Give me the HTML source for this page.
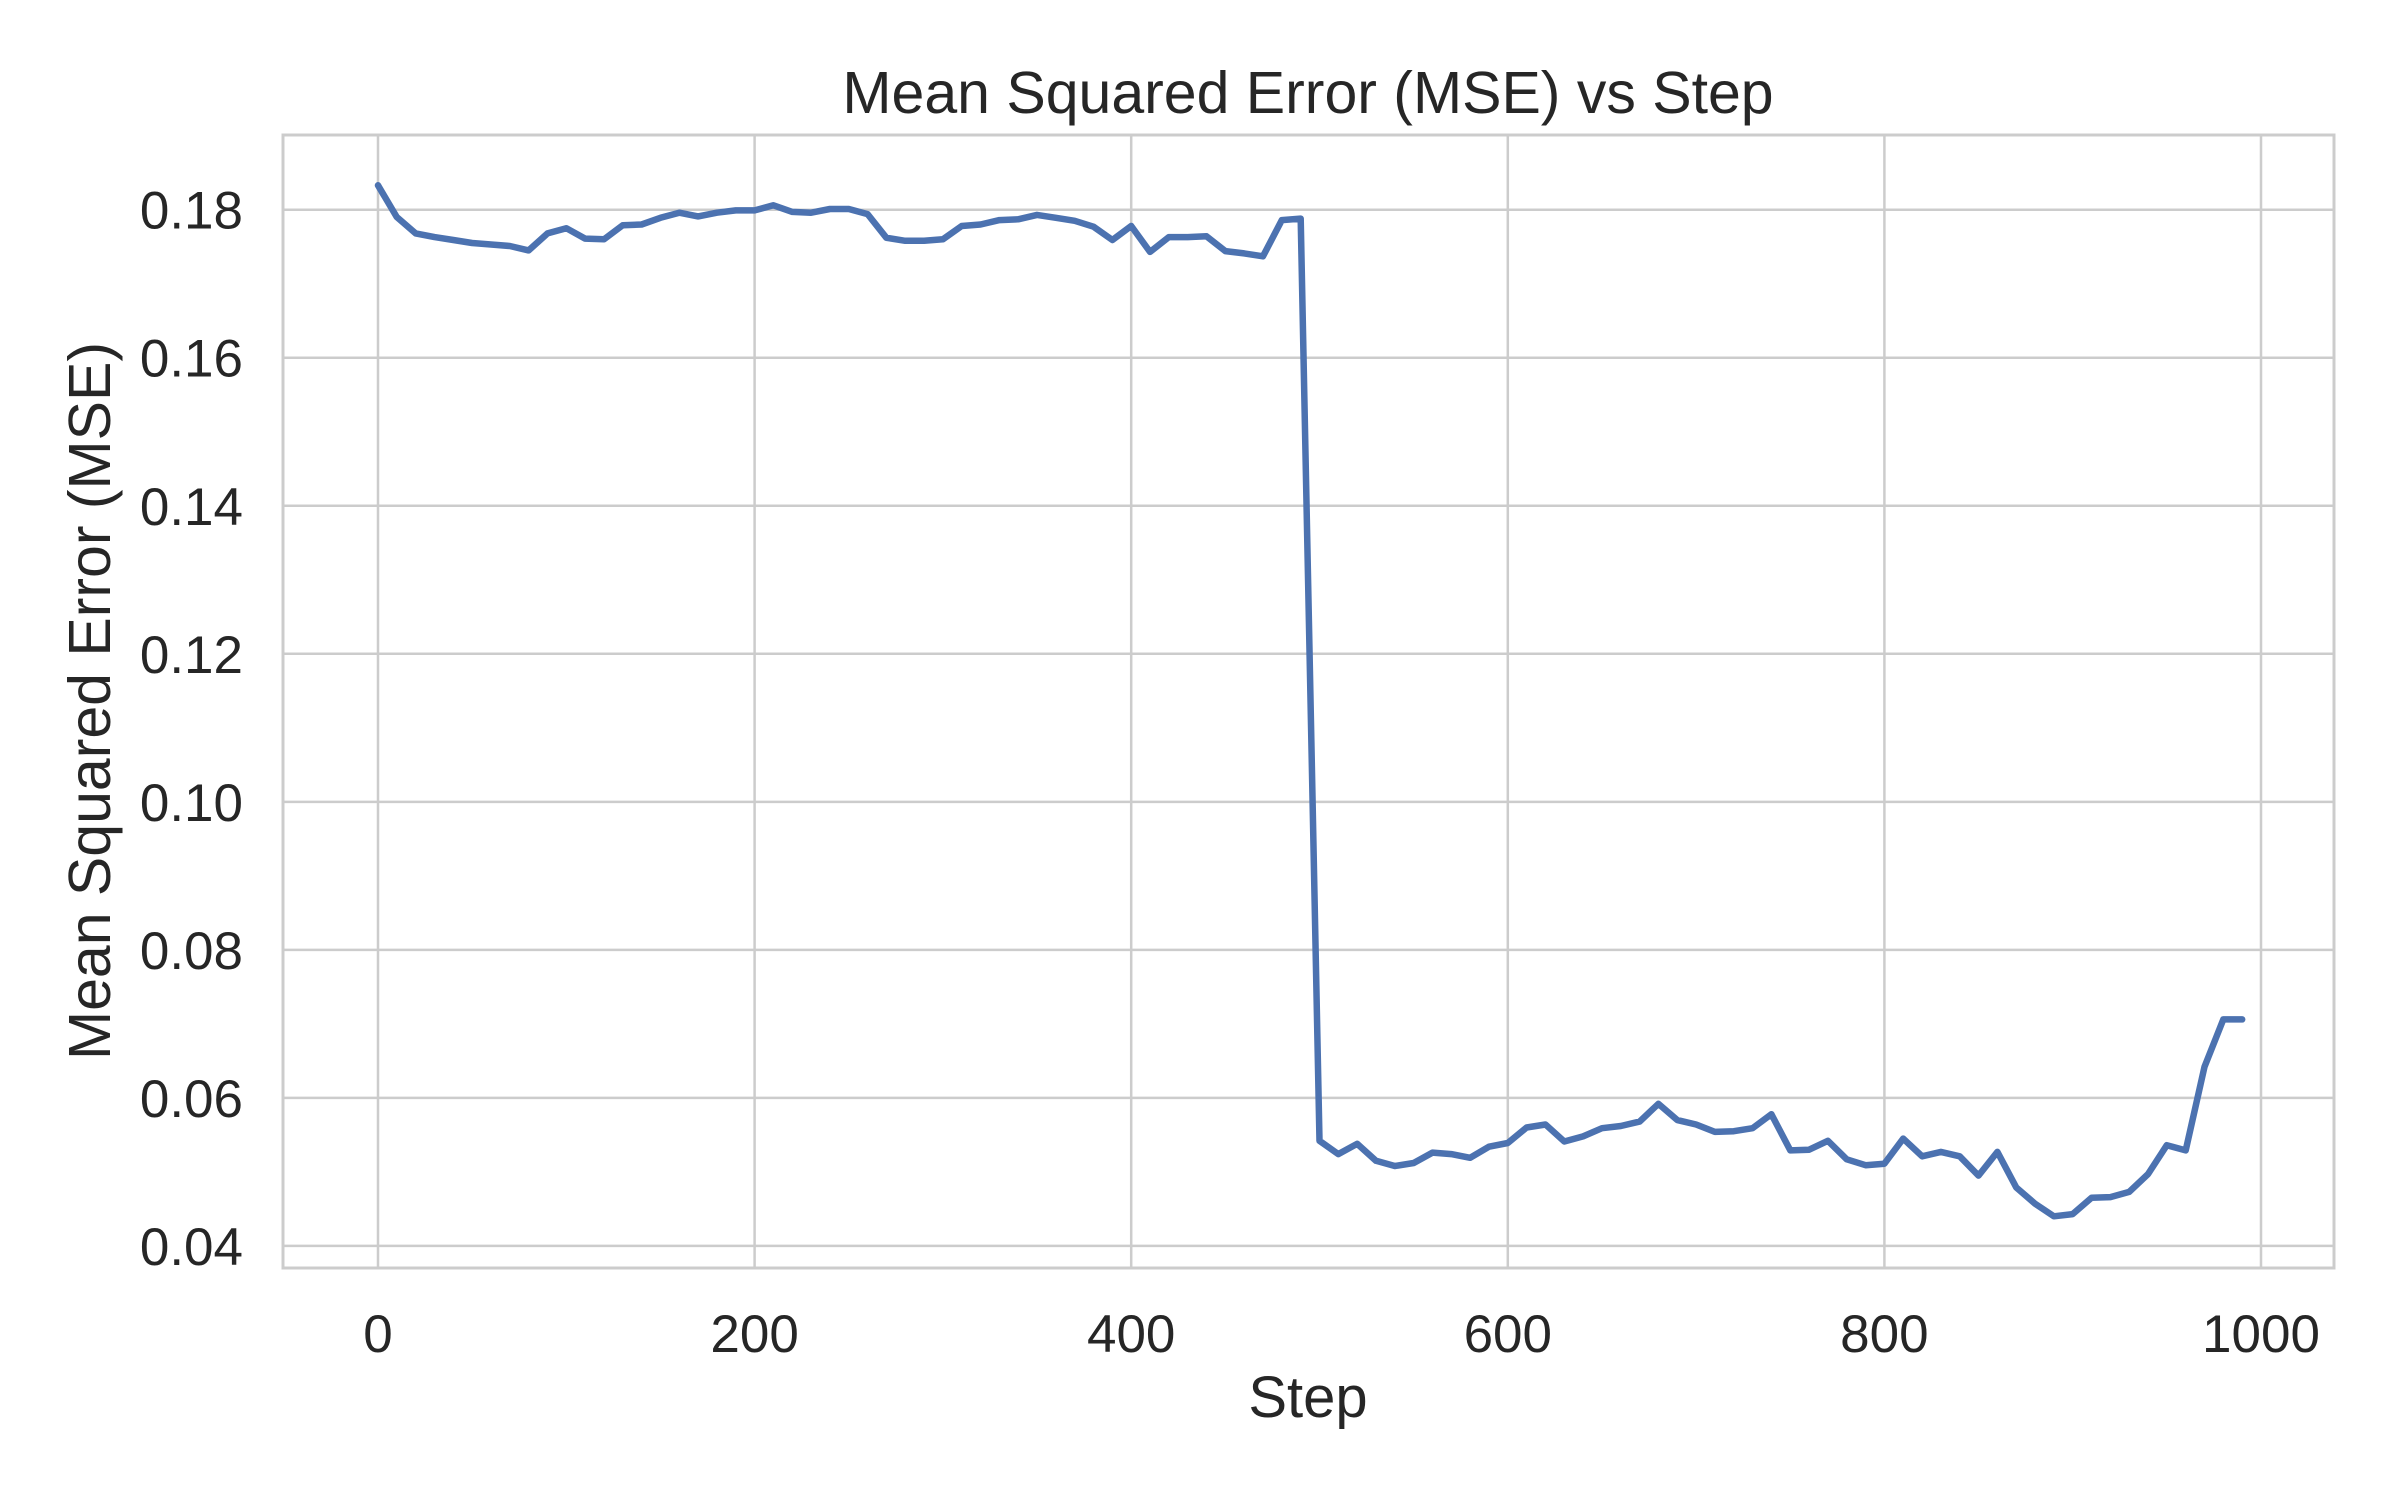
<!DOCTYPE html>
<html><head><meta charset="utf-8"><style>
html,body{margin:0;padding:0;background:#fff}
svg text{font-family:"Liberation Sans",sans-serif;fill:#262626}
</style></head><body>
<svg id="chart" width="2400" height="1500" xmlns="http://www.w3.org/2000/svg">
<rect width="2400" height="1500" fill="#fff"/>
<g id="grid"></g>
<rect x="283" y="135" width="2051" height="1133" fill="none" stroke="#cccccc" stroke-width="3"/>
<g id="marks"></g>
<g id="ticks"></g>
<text x="1308" y="113" text-anchor="middle" font-size="59">Mean Squared Error (MSE) vs Step</text>
<text x="1308" y="1417" text-anchor="middle" font-size="58">Step</text>
<text x="0" y="0" transform="translate(110,701) rotate(-90)" text-anchor="middle" font-size="59">Mean Squared Error (MSE)</text>
</svg>
<script>
const steps = [];
for (let s = 0; s <= 990; s += 10) steps.push(s);
const mseValues = [
0.1833,0.1790,0.1768,0.1763,0.1759,0.1755,0.1753,0.1751,0.1745,0.1768,
0.1775,0.1761,0.1760,0.1779,0.1780,0.1789,0.1796,0.1791,0.1796,0.1799,
0.1799,0.1806,0.1797,0.1796,0.1801,0.1801,0.1794,0.1762,0.1758,0.1758,
0.1760,0.1778,0.1780,0.1786,0.1787,0.1793,0.1789,0.1785,0.1777,0.1759,
0.1778,0.1743,0.1763,0.1763,0.1764,0.1744,0.1741,0.1737,0.1786,0.1788,
0.0542,0.0524,0.0538,0.0515,0.0508,0.0512,0.0526,0.0524,0.0519,0.0534,
0.0539,0.0560,0.0564,0.0541,0.0548,0.0559,0.0562,0.0568,0.0592,0.0570,
0.0564,0.0554,0.0555,0.0559,0.0578,0.0529,0.0530,0.0542,0.0517,0.0509,
0.0511,0.0545,0.0521,0.0527,0.0521,0.0495,0.0527,0.0479,0.0457,0.0440,
0.0443,0.0465,0.0466,0.0473,0.0497,0.0536,0.0529,0.0642,0.0706,0.0706];
const xTicks = [0,200,400,600,800,1000];
const yTicks = [0.04,0.06,0.08,0.10,0.12,0.14,0.16,0.18];
const yTickLabels = ["0.04","0.06","0.08","0.10","0.12","0.14","0.16","0.18"];

const X0=378, X1=2261, Y18=209.7, Y04=1245.9;
function xs(v){return X0+(v-0)*(X1-X0)/1000;}
function ys(v){return Y04+(v-0.04)*(Y18-Y04)/0.14;}
const NS="http://www.w3.org/2000/svg";
const grid=document.getElementById('grid'), ticks=document.getElementById('ticks'), marks=document.getElementById('marks');
function mk(tag,attrs){const e=document.createElementNS(NS,tag);for(const k in attrs)e.setAttribute(k,attrs[k]);return e;}
xTicks.forEach(t=>{
  const l=mk('line',{x1:xs(t),x2:xs(t),y1:135,y2:1268,stroke:'#cccccc','stroke-width':2.5});
  
  
  grid.appendChild(l);
  const tx=mk('text',{x:xs(t),y:1352,'text-anchor':'middle','font-size':53});
  
  
  tx.textContent=String(t);ticks.appendChild(tx);
});
yTicks.forEach((t,i)=>{
  const l=mk('line',{x1:283,x2:2334,y1:ys(t),y2:ys(t),stroke:'#cccccc','stroke-width':2.5});
  
  
  grid.appendChild(l);
  const tx=mk('text',{x:243,y:ys(t)+19,'text-anchor':'end','font-size':53});
  
  
  tx.textContent=yTickLabels[i];ticks.appendChild(tx);
});
const pts=steps.map((s,i)=>xs(s).toFixed(1)+','+ys(mseValues[i]).toFixed(1)).join(' ');
const line=mk('polyline',{points:pts,fill:'none',stroke:'#4c72b0','stroke-width':6.5,'stroke-linejoin':'round','stroke-linecap':'round'});


marks.appendChild(line);
</script>
</body></html>
